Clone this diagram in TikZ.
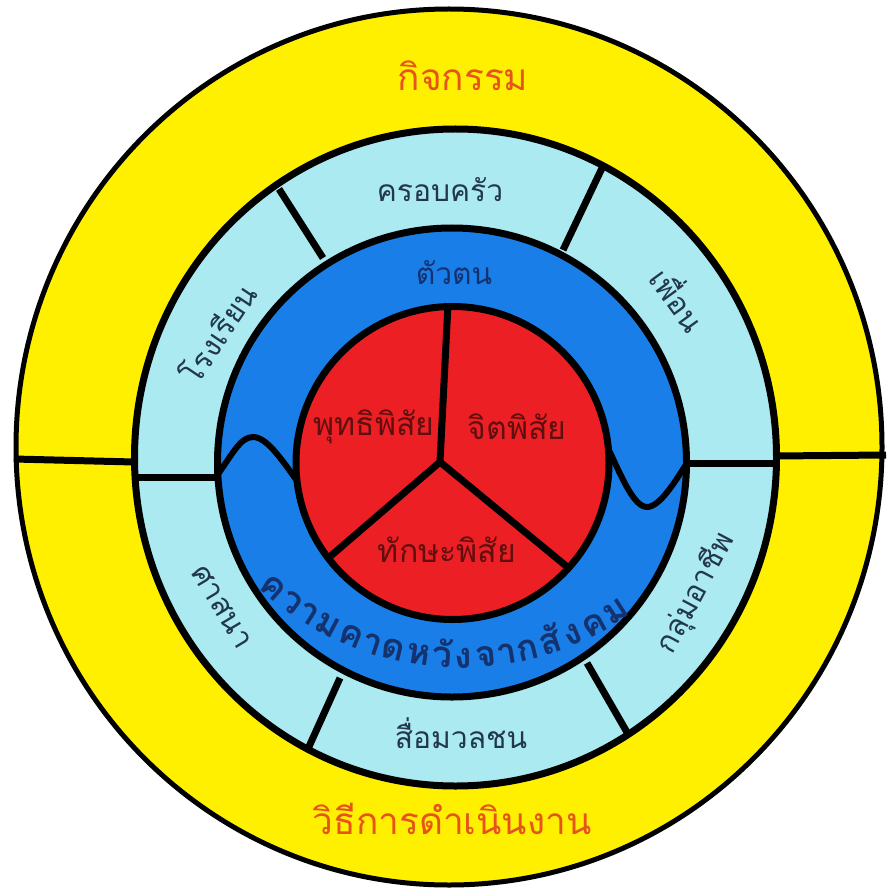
\documentclass[tikz,border=0pt]{standalone}
\usepackage{fontspec}
\setmainfont[Script=Thai]{Loma}
\definecolor{ylw}{RGB}{255,240,0}
\definecolor{lblue}{RGB}{170,234,240}
\definecolor{mblue}{RGB}{26,126,232}
\definecolor{rred}{RGB}{236,32,36}
\definecolor{orng}{RGB}{230,84,28}
\definecolor{ringtxt}{RGB}{35,55,75}
\definecolor{selftxt}{RGB}{20,50,110}
\definecolor{redtxt}{RGB}{95,15,15}
\begin{document}
\begin{tikzpicture}[x=1pt,y=1pt,line join=round,
  border/.style={draw=black,line width=7pt},
  divider/.style={draw=black,line width=7pt},
  titlelbl/.style={text=orng,font=\fontsize{37}{40}\selectfont,inner sep=0pt},
  ringlbl/.style={text=ringtxt,font=\fontsize{30}{33}\selectfont,inner sep=0pt},
  selflbl/.style={text=selftxt,font=\fontsize{30}{33}\selectfont,inner sep=0pt},
  corelbl/.style={text=redtxt,font=\fontsize{32}{35}\selectfont,inner sep=0pt},
  explbl/.style={text=selftxt,font=\fontsize{36}{38}\selectfont\bfseries,inner sep=0pt,anchor=base}]
\useasboundingbox (0,0) rectangle (890,-893);
\fill[white] (0,0) rectangle (890,-893);
% outer yellow ring
\path[fill=ylw,draw=black,line width=5pt] (449,-447) ellipse [x radius=433,y radius=438];
\coordinate (yL1) at (14,-459); \coordinate (yL2) at (134,-462);
\coordinate (yR1) at (775,-456); \coordinate (yR2) at (886,-455);
\draw[divider] (yL1) -- (yL2);
\draw[divider] (yR1) -- (yR2);
% light blue ring
\path[fill=lblue,border] (455.5,-457.5) ellipse [x radius=321,y radius=328.5];
\coordinate (bL1) at (134,-477); \coordinate (bL2) at (216,-477);
\coordinate (bR1) at (688,-463); \coordinate (bR2) at (776,-463);
\coordinate (bTL1) at (279,-189); \coordinate (bTL2) at (323,-258);
\coordinate (bTR1) at (603,-166); \coordinate (bTR2) at (563,-250);
\coordinate (bBL1) at (340,-678); \coordinate (bBL2) at (307,-751);
\coordinate (bBR1) at (587,-663); \coordinate (bBR2) at (628,-734);
\foreach \a/\b in {bL1/bL2,bR1/bR2,bTL1/bTL2,bTR1/bTR2,bBL1/bBL2,bBR1/bBR2}
  \draw[divider] (\a) -- (\b);
% blue ring
\path[fill=mblue,border] (452,-462.5) circle [radius=234.5];
\coordinate (wL0) at (216,-477); \coordinate (wLp) at (253,-437); \coordinate (wL1) at (300,-485);
\coordinate (wR0) at (608,-448); \coordinate (wRt) at (647,-507); \coordinate (wR1) at (687,-463);
\draw[line width=6pt,line cap=round] (wL0) .. controls (232,-455) and (240,-437) .. (wLp)
   .. controls (267,-437) and (282,-460) .. (wL1);
\draw[line width=6pt,line cap=round] (wR0) .. controls (622,-478) and (634,-507) .. (wRt)
   .. controls (660,-507) and (676,-480) .. (wR1);
% red core
\path[fill=rred] (452.5,-463) circle [radius=156.5];
\coordinate (J) at (440,-462);
\coordinate (rT) at (448,-304); \coordinate (rBL) at (326,-560); \coordinate (rBR) at (571,-570);
\draw[divider] (J) -- (rT);
\draw[divider] (J) -- (rBL);
\draw[divider] (J) -- (rBR);
\path[border] (452.5,-463) circle [radius=156.5];
% labels
\node[titlelbl] (act) at (463,-76) {กิจกรรม};
\node[titlelbl] (meth) at (452,-819) {วิธีการดำเนินงาน};
\node[ringlbl] (fam) at (440,-190) {ครอบครัว};
\node[ringlbl,rotate=56] (school) at (217,-333) {โรงเรียน};
\node[ringlbl,rotate=-54] (friend) at (680,-298) {เพื่อน};
\node[ringlbl,rotate=-59] (relig) at (222,-607) {ศาสนา};
\node[ringlbl,rotate=62] (career) at (696,-593) {กลุ่มอาชีพ};
\node[ringlbl] (media) at (461,-733) {สื่อมวลชน};
\node[selflbl] (self) at (454,-273) {ตัวตน};
\node[corelbl] (cog) at (374,-427) {พุทธิพิสัย};
\node[corelbl] (aff) at (517,-427) {จิตพิสัย};
\node[corelbl] (psy) at (447,-550) {ทักษะพิสัย};
% curved label: social expectations
\coordinate (arcC) at (461,-373);
\foreach \ang/\ch [count=\i] in {228.8/ค,233.55/ว,237.66/า,242.15/ม,247.29/ค,251.78/า,256.27/ด,261.41/ห,266.16/วั,270.52/ง,275.02/จ,279.25/า,283.49/ก,288.37/สั,293.12/ง,297.87/ค,303.0/ม}
  \node[explbl,rotate=\ang+90] (ex\i) at ([shift={(\ang:295)}]arcC) {\ch};
\end{tikzpicture}
\end{document}
